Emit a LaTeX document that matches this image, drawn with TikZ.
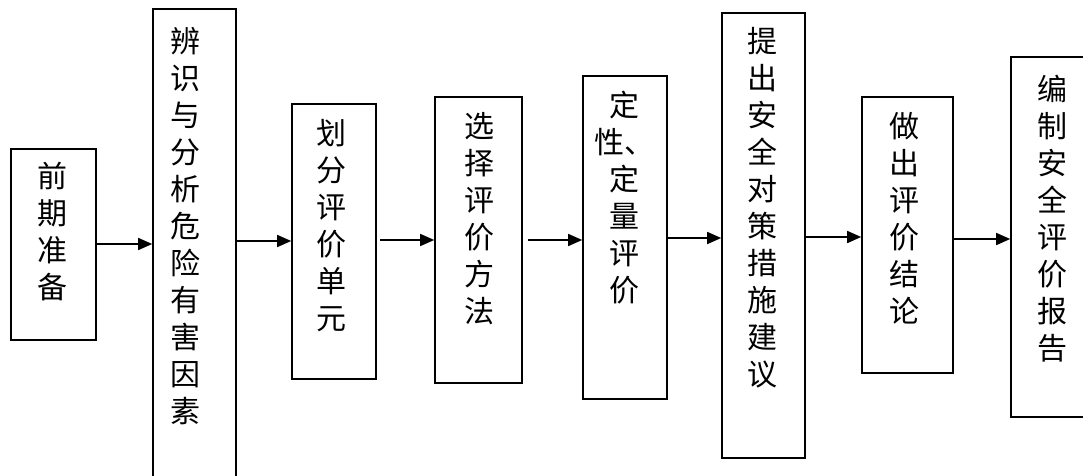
\documentclass[tikz,border=0pt]{standalone}
\usepackage{fontspec}
\newfontfamily\cjk{Noto Sans CJK SC}
\usetikzlibrary{arrows.meta}
\begin{document}
\begin{tikzpicture}[x=1pt,y=-1pt,
  box/.style={draw=black,line width=1.6pt,rectangle,inner sep=0pt},
  arr/.style={draw=black,line width=1.5pt,-{Triangle[length=14pt,width=12pt]}},
  vt/.style={anchor=north,inner sep=0pt,align=center,font=\cjk\fontsize{30}{37}\selectfont}]
\useasboundingbox (0,0) rectangle (1083,475);
\clip (0,0) rectangle (1083,475);
\node[box,minimum width=85pt,minimum height=191pt] (b1) at (53.5,244.5) {};
\node[box,minimum width=83pt,minimum height=471pt] (b2) at (194.5,244.5) {};
\node[box,minimum width=84pt,minimum height=275pt] (b3) at (334,241.5) {};
\node[box,minimum width=87pt,minimum height=286pt] (b4) at (478.5,240) {};
\node[box,minimum width=84pt,minimum height=323pt] (b5) at (625,237.5) {};
\node[box,minimum width=83pt,minimum height=445pt] (b6) at (763.5,235.5) {};
\node[box,minimum width=91pt,minimum height=276pt] (b7) at (907.5,235) {};
\node[box,minimum width=82pt,minimum height=360pt] (b8) at (1052,237) {};
\node[vt] (t1) at (52,162) {前\\期\\准\\备};
\node[vt] (t2) at (185,27) {辨\\识\\与\\分\\析\\危\\险\\有\\害\\因\\素};
\node[vt] (t3) at (331,119) {划\\分\\评\\价\\单\\元};
\node[vt] (t4) at (479,112) {选\\择\\评\\价\\方\\法};
\node[vt] (t5) at (624,91) {定\\性、\\定\\量\\评\\价};
\node[vt] (t6) at (762,27) {提\\出\\安\\全\\对\\策\\措\\施\\建\\议};
\node[vt] (t7) at (904,112) {做\\出\\评\\价\\结\\论};
\node[vt] (t8) at (1052,75) {编\\制\\安\\全\\评\\价\\报\\告};
\coordinate (y1) at (0,244);
\coordinate (y2) at (0,241);
\coordinate (y3) at (0,240);
\coordinate (y4) at (0,240);
\coordinate (y5) at (0,238);
\coordinate (y6) at (0,237);
\coordinate (y7) at (0,239);
\draw[arr] (b1.east |- y1) -- (b2.west |- y1);
\draw[arr] (b2.east |- y2) -- (b3.west |- y2);
\draw[arr] ([xshift=3pt]b3.east |- y3) -- (b4.west |- y3);
\draw[arr] ([xshift=5pt]b4.east |- y4) -- (b5.west |- y4);
\draw[arr] (b5.east |- y5) -- (b6.west |- y5);
\draw[arr] (b6.east |- y6) -- (b7.west |- y6);
\draw[arr] (b7.east |- y7) -- (b8.west |- y7);
\end{tikzpicture}
\end{document}
